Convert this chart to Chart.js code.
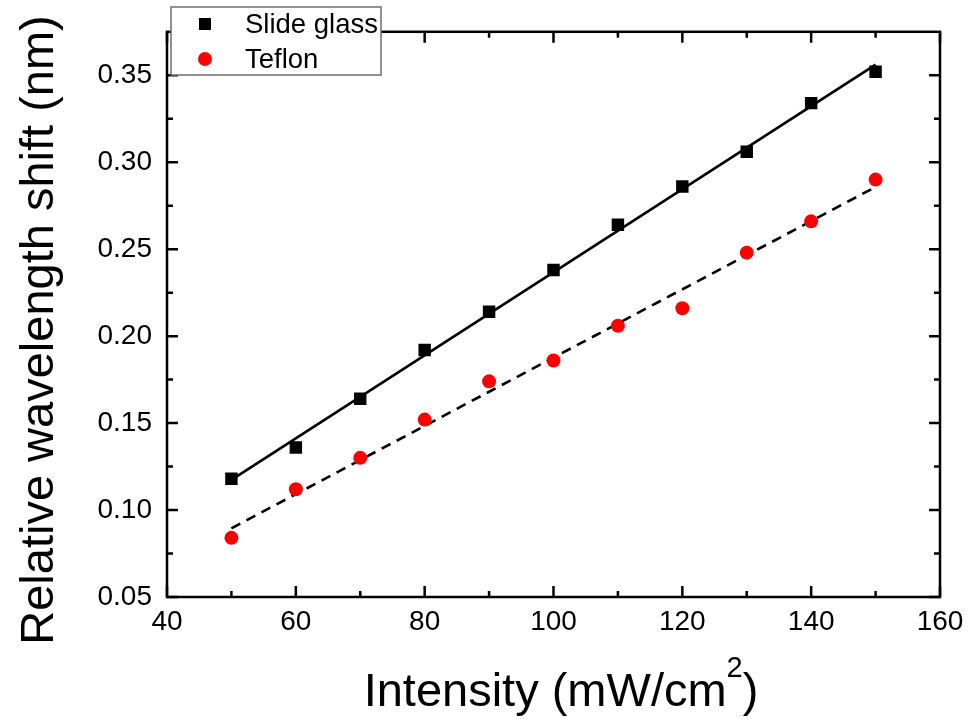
<!DOCTYPE html>
<html>
<head>
<meta charset="utf-8">
<script src="https://cdn.jsdelivr.net/npm/chart.js@4/dist/chart.umd.min.js"></script>
<style>
  html, body { margin: 0; padding: 0; background: #fff; }
  #wrap { width: 972px; height: 719px; }
</style>
</head>
<body>
<div id="wrap"><canvas id="c" width="972" height="719"></canvas></div>
<script>
// Light intensity (mW/cm²) for each measurement
const intensity = [50, 60, 70, 80, 90, 100, 110, 120, 130, 140, 150];
// Relative wavelength shift (nm) on each substrate
const glassShift  = [0.118, 0.136, 0.164, 0.192, 0.214, 0.238, 0.264, 0.286, 0.306, 0.334, 0.352];
const teflonShift = [0.084, 0.112, 0.130, 0.152, 0.174, 0.186, 0.206, 0.216, 0.248, 0.266, 0.290];
// Linear fit end points
const fitX      = [50, 150];
const glassFit  = [0.1174, 0.3561];
const teflonFit = [0.0895, 0.2858];
// Axis ticks
const xMajor = [40, 60, 80, 100, 120, 140, 160];
const xMinor = [50, 70, 90, 110, 130, 150];
const yMajor = [0.05, 0.10, 0.15, 0.20, 0.25, 0.30, 0.35];
const yMinor = [0.075, 0.125, 0.175, 0.225, 0.275, 0.325];

const seriesNames = ['Slide glass', 'Teflon'];
const FONT = '"Liberation Sans", Arial, Helvetica, sans-serif';

const pts = (xs, ys) => xs.map((x, i) => ({ x, y: ys[i] }));

// Frame, inward tick marks, axis titles and the legend box
const framePlugin = {
  id: 'frame',
  afterDraw(chart) {
    const { ctx, chartArea: a, scales: { x, y } } = chart;
    ctx.save();
    ctx.strokeStyle = '#000';
    ctx.lineWidth = 2.5;
    ctx.lineCap = 'butt';
    ctx.strokeRect(a.left, a.top, a.right - a.left, a.bottom - a.top);
    const major = 11, minor = 6;
    ctx.beginPath();
    const xt = (v, len) => {
      const px = x.getPixelForValue(v);
      ctx.moveTo(px, a.bottom); ctx.lineTo(px, a.bottom - len);
      ctx.moveTo(px, a.top);    ctx.lineTo(px, a.top + len);
    };
    const yt = (v, len) => {
      const py = y.getPixelForValue(v);
      ctx.moveTo(a.left, py);  ctx.lineTo(a.left + len, py);
      ctx.moveTo(a.right, py); ctx.lineTo(a.right - len, py);
    };
    xMajor.forEach(v => xt(v, major));
    xMinor.forEach(v => xt(v, minor));
    yMajor.forEach(v => yt(v, major));
    yMinor.forEach(v => yt(v, minor));
    ctx.stroke();

    // axis titles
    ctx.fillStyle = '#000';
    ctx.textBaseline = 'alphabetic';
    const big = 47, small = 29;
    const p1 = 'Intensity (mW/cm', sup = '2', p2 = ')';
    ctx.font = big + 'px ' + FONT;
    const w1 = ctx.measureText(p1).width, w3 = ctx.measureText(p2).width;
    ctx.font = small + 'px ' + FONT;
    const w2 = ctx.measureText(sup).width;
    const total = w1 + w2 + w3;
    let tx = 561 - total / 2;
    const base = 706;
    ctx.textAlign = 'left';
    ctx.font = big + 'px ' + FONT;
    ctx.fillText(p1, tx, base);
    ctx.font = small + 'px ' + FONT;
    ctx.fillText(sup, tx + w1, base - 29);
    ctx.font = big + 'px ' + FONT;
    ctx.fillText(p2, tx + w1 + w2, base);

    ctx.save();
    ctx.translate(53, 330);
    ctx.rotate(-Math.PI / 2);
    ctx.textAlign = 'center';
    ctx.font = big + 'px ' + FONT;
    ctx.fillText('Relative wavelength shift (nm)', 0, 0);
    ctx.restore();

    // legend
    const lx = 171, ly = 7, lw = 210, lh = 68;
    ctx.fillStyle = '#fff';
    ctx.fillRect(lx, ly, lw, lh);
    ctx.strokeStyle = '#6e6e6e';
    ctx.lineWidth = 1.5;
    ctx.strokeRect(lx, ly, lw, lh);
    const rows = [24, 59];
    chart.data.datasets.slice(0, 2).forEach((ds, i) => {
      const my = rows[i];
      ctx.fillStyle = ds.pointBackgroundColor;
      if (ds.pointStyle === 'rect') {
        ctx.fillRect(205 - 6, my - 6, 12, 12);
      } else {
        ctx.beginPath();
        ctx.arc(205, my, 7, 0, Math.PI * 2);
        ctx.fill();
      }
      ctx.fillStyle = '#000';
      ctx.font = '27.5px ' + FONT;
      ctx.textAlign = 'left';
      ctx.textBaseline = 'middle';
      ctx.fillText(ds.label, 245, my + 1);
    });
    ctx.restore();
  }
};

new Chart(document.getElementById('c'), {
  type: 'scatter',
  data: {
    datasets: [
      {
        label: seriesNames[0],
        data: pts(intensity, glassShift),
        pointStyle: 'rect',
        pointRadius: 8.8,
        pointBackgroundColor: '#000',
        pointBorderWidth: 0,
        borderColor: '#000',
        showLine: false,
        order: 1
      },
      {
        label: seriesNames[1],
        data: pts(intensity, teflonShift),
        pointStyle: 'circle',
        pointRadius: 7,
        pointBackgroundColor: '#ff0000',
        pointBorderWidth: 0,
        borderColor: '#ff0000',
        showLine: false,
        order: 1
      },
      {
        label: seriesNames[0] + ' fit',
        data: pts(fitX, glassFit),
        showLine: true,
        borderColor: '#000',
        borderWidth: 2.6,
        pointRadius: 0,
        order: 2
      },
      {
        label: seriesNames[1] + ' fit',
        data: pts(fitX, teflonFit),
        showLine: true,
        borderColor: '#000',
        borderWidth: 2.6,
        borderDash: [10, 7],
        pointRadius: 0,
        order: 2
      }
    ]
  },
  options: {
    responsive: false,
    animation: false,
    layout: { padding: { top: 28, right: 32, left: 0, bottom: 0 } },
    plugins: { legend: { display: false }, tooltip: { enabled: false } },
    scales: {
      x: {
        type: 'linear',
        min: 40, max: 160,
        afterFit: s => { s.height = 122; },
        afterBuildTicks: s => { s.ticks = xMajor.map(v => ({ value: v })); },
        grid: { display: false, drawTicks: false },
        border: { display: false },
        ticks: {
          padding: 8,
          color: '#000',
          font: { family: FONT, size: 28 },
          callback: v => String(v)
        }
      },
      y: {
        type: 'linear',
        min: 0.05, max: 0.375,
        afterFit: s => { s.width = 167; },
        afterBuildTicks: s => { s.ticks = yMajor.map(v => ({ value: v })); },
        grid: { display: false, drawTicks: false },
        border: { display: false },
        ticks: {
          padding: 15,
          color: '#000',
          font: { family: FONT, size: 28 },
          callback: v => Number(v).toFixed(2)
        }
      }
    }
  },
  plugins: [framePlugin]
});
</script>
</body>
</html>
